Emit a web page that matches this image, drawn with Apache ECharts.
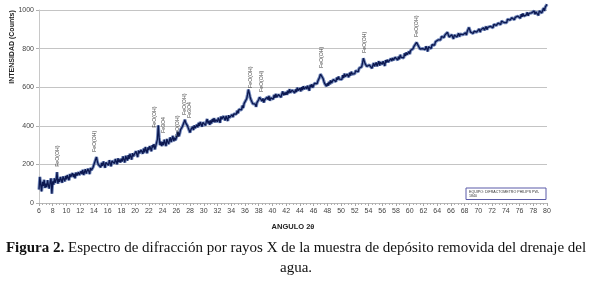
<!DOCTYPE html>
<html>
<head>
<meta charset="utf-8">
<script src="https://cdn.jsdelivr.net/npm/echarts@6/dist/echarts.min.js"></script>
<style>
html,body{margin:0;padding:0;background:#fff;}
#chart{width:592px;height:281px;}
</style>
</head>
<body>
<div id="chart"></div>
<script>
// Measurement grid (2θ): start angle and step of the scan
const startAngle = 6;
const stepAngle = 0.125;

// Intensity (counts), one value per step (8 values per degree)
const intensity = [
  70, 135, 95, 60, 110, 88, 120, 78,
  100, 82, 118, 92, 75, 110, 128, 48,
  112, 95, 128, 105, 120, 160, 100, 125,
  110, 135, 120, 105, 138, 125, 112, 140,
  122, 145, 130, 118, 150, 135, 128, 155,
  135, 150, 128, 158, 142, 132, 160, 145,
  140, 165, 150, 172, 145, 160, 175, 152,
  158, 178, 165, 150, 182, 170, 160, 185,
  175, 195, 225, 238, 215, 200, 190, 205,
  185, 208, 192, 215, 198, 182, 210, 200,
  210, 195, 222, 205, 190, 218, 208, 225,
  205, 228, 215, 200, 232, 212, 225, 210,
  230, 215, 242, 225, 210, 245, 232, 220,
  248, 228, 255, 240, 225, 258, 242, 252,
  245, 268, 252, 238, 272, 258, 248, 275,
  270, 255, 282, 262, 290, 272, 258, 288,
  275, 295, 282, 268, 300, 288, 305, 278,
  295, 285, 330, 402, 340, 300, 318, 295,
  315, 300, 328, 310, 295, 332, 318, 305,
  325, 340, 315, 332, 348, 320, 338, 325,
  335, 350, 368, 345, 360, 380, 372, 395,
  405, 418, 432, 415, 425, 400, 388, 378,
  365, 380, 372, 395, 378, 402, 388, 398,
  405, 392, 415, 400, 420, 408, 395, 418,
  410, 428, 402, 422, 435, 412, 425, 405,
  428, 412, 435, 420, 440, 418, 432, 425,
  420, 442, 430, 415, 448, 435, 425, 450,
  440, 428, 452, 438, 425, 455, 442, 448,
  438, 458, 445, 462, 452, 470, 460, 478,
  465, 485, 475, 495, 482, 505, 492, 515,
  508, 525, 540, 562, 588, 570, 550, 535,
  528, 515, 522, 505, 512, 498, 520, 530,
  535, 548, 555, 540, 528, 542, 520, 535,
  540, 525, 548, 535, 555, 530, 545, 538,
  550, 538, 560, 545, 565, 548, 540, 562,
  555, 570, 548, 565, 578, 558, 572, 560,
  575, 560, 582, 568, 590, 572, 565, 585,
  580, 592, 570, 588, 575, 598, 582, 590,
  595, 578, 600, 585, 605, 590, 580, 602,
  590, 608, 595, 582, 612, 600, 615, 598,
  605, 620, 610, 625, 618, 632, 640, 652,
  668, 678, 660, 645, 630, 618, 612, 605,
  620, 608, 628, 615, 635, 622, 630, 640,
  632, 645, 628, 650, 638, 655, 642, 648,
  652, 640, 662, 648, 670, 655, 645, 668,
  665, 652, 675, 660, 680, 668, 658, 678,
  670, 685, 675, 692, 680, 698, 688, 700,
  705, 725, 750, 740, 722, 715, 708, 712,
  700, 715, 705, 722, 698, 712, 725, 708,
  715, 728, 708, 722, 735, 712, 730, 720,
  718, 735, 725, 710, 740, 728, 742, 730,
  738, 725, 748, 735, 752, 740, 730, 755,
  748, 762, 740, 758, 745, 768, 755, 762,
  765, 752, 775, 762, 780, 768, 758, 785,
  772, 790, 780, 795, 800, 812, 808, 822,
  832, 825, 815, 808, 798, 805, 792, 800,
  790, 805, 795, 812, 800, 785, 810, 802,
  812, 800, 820, 810, 828, 818, 835, 825,
  832, 845, 838, 852, 845, 862, 855, 868,
  858, 870, 865, 878, 885, 872, 860, 868,
  858, 872, 862, 850, 870, 865, 878, 860,
  868, 880, 862, 875, 870, 885, 872, 878,
  875, 882, 870, 888, 895, 910, 898, 885,
  880, 892, 878, 890, 882, 895, 885, 878,
  890, 902, 885, 898, 905, 892, 908, 895,
  902, 915, 898, 910, 920, 905, 915, 908,
  918, 908, 925, 915, 930, 920, 912, 932,
  930, 938, 925, 942, 932, 948, 935, 945,
  945, 935, 952, 942, 958, 948, 940, 960,
  955, 968, 950, 962, 972, 958, 968, 962,
  970, 958, 978, 965, 982, 968, 960, 978,
  975, 988, 970, 982, 992, 975, 985, 978,
  985, 995, 978, 990, 1000, 985, 972, 995,
  990, 1005, 985, 998, 1010, 995, 1015, 1020,
  1030
];

// Peak annotations
const peakAngles = [8.67, 14.16, 22.9, 24.1, 26.2, 27.2, 28.0, 36.76, 38.36, 47.2, 53.4, 61.06];
const peakLabelY = [187, 264, 389, 363, 342, 456, 440, 596, 575, 699, 777, 860];
const peakNames = ['FeO(OH)', 'FeO(OH)', 'FeO(OH)', 'Fe3O4', 'FeO(OH)', 'FeO(OH)', 'Fe3O4',
                   'FeO(OH)', 'FeO(OH)', 'FeO(OH)', 'FeO(OH)', 'FeO(OH)'];

// Axis ticks
const xMin = 6, xMax = 80, xStep = 2;
const yMin = 0, yMax = 1000, yStep = 200;

const lineData = intensity.map((v, i) => [startAngle + i * stepAngle, v]);
const peakData = peakAngles.map((a, i) => ({ value: [a, peakLabelY[i]], name: peakNames[i] }));

const chart = echarts.init(document.getElementById('chart'), null, { renderer: 'canvas' });
const sans = 'Liberation Sans, Arial, sans-serif';
const serif = 'Liberation Serif, Times New Roman, serif';

chart.setOption({
  animation: false,
  backgroundColor: '#ffffff',
  grid: { left: 39, right: 45, top: 10, bottom: 78, containLabel: false },
  xAxis: {
    type: 'value', min: xMin, max: xMax, interval: xStep,
    name: 'ANGULO 2θ', nameLocation: 'middle', nameGap: 20,
    nameTextStyle: { fontFamily: sans, fontSize: 7.5, fontWeight: 'bold', color: '#222' },
    axisLine: { show: true, lineStyle: { color: '#b8b8b8', width: 1 } },
    axisTick: { show: true, length: 3, lineStyle: { color: '#a8a8a8' } },
    minorTick: { show: true, splitNumber: 4, length: 2, lineStyle: { color: '#b0b0b0' } },
    axisLabel: { fontFamily: sans, fontSize: 7, color: '#444', margin: 5 },
    splitLine: { show: false }
  },
  yAxis: {
    type: 'value', min: yMin, max: yMax, interval: yStep,
    axisLine: { show: true, lineStyle: { color: '#c8c8c8' } },
    axisTick: { show: true, length: 3, lineStyle: { color: '#b0b0b0' } },
    axisLabel: { fontFamily: sans, fontSize: 7, color: '#444', margin: 5, formatter: v => String(v) },
    splitLine: { show: true, lineStyle: { color: '#c4c4c4', width: 1 } }
  },
  graphic: [
    {
      type: 'text', x: 12, y: 47, rotation: Math.PI / 2,
      style: { text: 'INTENSIDAD (Counts)', fontFamily: sans, fontSize: 7, fontWeight: 'bold',
               fill: '#222', align: 'center', verticalAlign: 'middle' }
    },
    {
      type: 'rect', shape: { x: 466, y: 188, width: 80, height: 11.5 },
      style: { fill: '#fff', stroke: '#5a5aa8', lineWidth: 1 }
    },
    {
      type: 'text', x: 469, y: 189.5,
      style: { text: 'EQUIPO: DIFRACTOMETRO PHILIPS PW-\n1840', fontFamily: sans, fontSize: 3.6,
               lineHeight: 4, fill: '#333', align: 'left', verticalAlign: 'top' }
    },
    {
      type: 'text', x: 296, y: 248,
      style: {
        text: '{b|Figura 2.} Espectro de difracción por rayos X de la muestra de depósito removida del drenaje del',
        fontFamily: serif, fontSize: 15, fill: '#111', align: 'center', verticalAlign: 'middle',
        rich: { b: { fontFamily: serif, fontSize: 15, fontWeight: 'bold', fill: '#111' } }
      }
    },
    {
      type: 'text', x: 296, y: 268,
      style: { text: 'agua.', fontFamily: serif, fontSize: 15, fill: '#111', align: 'center', verticalAlign: 'middle' }
    }
  ],
  series: [
    {
      type: 'line', data: lineData, symbol: 'none', clip: false, silent: true,
      lineStyle: { color: '#4866a8', width: 3.2, opacity: 0.75 }, z: 2
    },
    {
      type: 'line', data: lineData, symbol: 'none', clip: false, silent: true,
      lineStyle: { color: '#0c1850', width: 1.3 }, z: 3
    },
    {
      type: 'scatter', data: peakData, symbolSize: 0.1, silent: true, z: 4,
      label: {
        show: true, formatter: p => p.name, position: 'top', distance: 0,
        rotate: 90, align: 'left', verticalAlign: 'middle',
        fontFamily: sans, fontSize: 5.2, color: '#111'
      }
    }
  ]
});
</script>
</body>
</html>
